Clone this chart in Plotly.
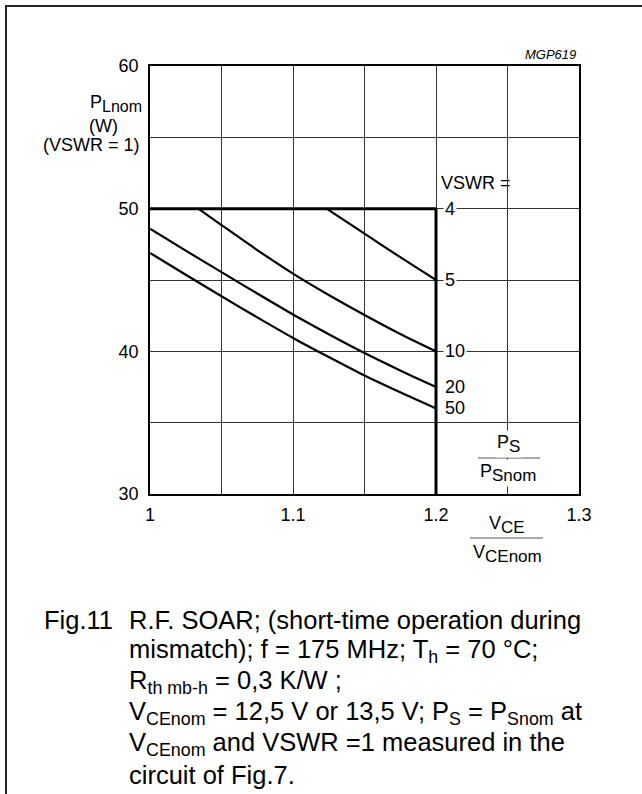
import plotly.graph_objects as go

# ---- data ----
x_ticks = [1.0, 1.1, 1.2, 1.3]
x_tick_text = ["1", "1.1", "1.2", "1.3"]
y_ticks = [30, 40, 50, 60]
y_tick_text = ["30", "40", "50", "60"]

# SOAR limit (VSWR = 4): horizontal cap and vertical limit
limit_h_x = [1.0, 1.2]
limit_h_y = [50, 50]
limit_v_x = [1.2, 1.2]
limit_v_y = [30, 50]

vswr5_x = [1.1235, 1.15, 1.175, 1.2]
vswr5_y = [50.0, 48.25, 46.6, 45.0]

vswr10_x = [1.0338, 1.05, 1.075, 1.1, 1.125, 1.15, 1.175, 1.2]
vswr10_y = [50.0, 48.85, 47.1, 45.45, 43.95, 42.55, 41.22, 40.0]

vswr20_x = [1.0, 1.025, 1.05, 1.075, 1.1, 1.125, 1.15, 1.175, 1.2]
vswr20_y = [48.6, 47.06, 45.55, 44.05, 42.58, 41.2, 39.88, 38.66, 37.5]

vswr50_x = [1.0, 1.025, 1.05, 1.075, 1.1, 1.125, 1.15, 1.175, 1.2]
vswr50_y = [46.9, 45.37, 43.86, 42.38, 40.94, 39.6, 38.31, 37.13, 36.0]

curve_labels = ["4", "5", "10", "20", "50"]
curve_label_y = [50, 45, 40, 37.5, 36]

FONT = "Liberation Sans, Arial, Helvetica, sans-serif"
W, H = 642, 794
L, R, T, B = 150, 579, 66, 494


def px(X):
    return (X - L) / (R - L)


def py(Y):
    return (B - Y) / (B - T)


def sub(txt, size):
    return "<sub><span style='font-size:%dpx'>%s</span></sub>" % (size, txt)


fig = go.Figure()

for xs, ys in [(vswr5_x, vswr5_y), (vswr10_x, vswr10_y),
               (vswr20_x, vswr20_y), (vswr50_x, vswr50_y)]:
    fig.add_trace(go.Scatter(x=xs, y=ys, mode="lines",
                             line=dict(color="black", width=2.2, shape="spline", smoothing=0.8),
                             showlegend=False, hoverinfo="skip"))

fig.add_trace(go.Scatter(x=limit_h_x, y=limit_h_y, mode="lines",
                         line=dict(color="black", width=3), showlegend=False, hoverinfo="skip"))
fig.add_trace(go.Scatter(x=limit_v_x, y=limit_v_y, mode="lines",
                         line=dict(color="black", width=3), showlegend=False, hoverinfo="skip"))

annotations = []
LAB = 18

# curve labels at x = 1.2
for lab, yv in zip(curve_labels, curve_label_y):
    annotations.append(dict(x=1.2, y=yv, xref="x", yref="y", text=lab, showarrow=False,
                            xanchor="left", yanchor="middle", xshift=7,
                            font=dict(family=FONT, size=LAB, color="black"),
                            bgcolor="white", borderpad=1))

annotations.append(dict(x=1.2, y=51.8, xref="x", yref="y", text="VSWR =", showarrow=False,
                        xanchor="left", yanchor="middle", xshift=3,
                        font=dict(family=FONT, size=LAB, color="black")))

# y axis title
annotations += [
    dict(x=px(116), y=py(103), xref="paper", yref="paper", text="P" + sub("Lnom", 16),
         showarrow=False, xanchor="center", yanchor="middle",
         font=dict(family=FONT, size=LAB, color="black")),
    dict(x=px(103), y=py(126), xref="paper", yref="paper", text="(W)",
         showarrow=False, xanchor="center", yanchor="middle",
         font=dict(family=FONT, size=LAB, color="black")),
    dict(x=px(91), y=py(145), xref="paper", yref="paper", text="(VSWR = 1)",
         showarrow=False, xanchor="center", yanchor="middle",
         font=dict(family=FONT, size=LAB, color="black")),
    dict(x=px(578), y=py(54), xref="paper", yref="paper", text="<i>MGP619</i>",
         showarrow=False, xanchor="right", yanchor="middle",
         font=dict(family=FONT, size=13, color="black")),
]

# fractions
annotations += [
    dict(x=px(508), y=py(444), xref="paper", yref="paper", text="P" + sub("S", 17),
         showarrow=False, xanchor="center", yanchor="middle", bgcolor="white", borderpad=1,
         font=dict(family=FONT, size=LAB, color="black")),
    dict(x=px(508), y=py(473), xref="paper", yref="paper", text="P" + sub("Snom", 17),
         showarrow=False, xanchor="center", yanchor="middle", bgcolor="white", borderpad=1,
         font=dict(family=FONT, size=LAB, color="black")),
    dict(x=px(507), y=py(525), xref="paper", yref="paper", text="V" + sub("CE", 17),
         showarrow=False, xanchor="center", yanchor="middle",
         font=dict(family=FONT, size=LAB, color="black")),
    dict(x=px(507), y=py(554), xref="paper", yref="paper", text="V" + sub("CEnom", 17),
         showarrow=False, xanchor="center", yanchor="middle",
         font=dict(family=FONT, size=LAB, color="black")),
]

CAP = 25.5
caption_lines = [
    "R.F. SOAR; (short-time operation during",
    "mismatch); f = 175 MHz; T<sub>h</sub> = 70 °C;",
    "R<sub>th mb-h</sub> = 0,3 K/W ;",
    "V<sub>CEnom</sub> = 12,5 V or 13,5 V; P<sub>S</sub> = P<sub>Snom</sub> at",
    "V<sub>CEnom</sub> and VSWR =1 measured in the",
    "circuit of Fig.7.",
]
caption_y = [620, 651, 682, 713, 744, 775]
annotations.append(dict(x=px(42), y=py(620), xref="paper", yref="paper", text="Fig.11",
                        showarrow=False, xanchor="left", yanchor="middle",
                        font=dict(family=FONT, size=CAP, color="black")))
for txt, yy in zip(caption_lines, caption_y):
    annotations.append(dict(x=px(127), y=py(yy), xref="paper", yref="paper", text=txt,
                            showarrow=False, xanchor="left", yanchor="middle",
                            font=dict(family=FONT, size=CAP, color="black")))

shapes = [
    # fraction bars
    dict(type="line", xref="paper", yref="paper", x0=px(478), x1=px(540), y0=py(458), y1=py(458),
         line=dict(color="#555", width=1)),
    dict(type="line", xref="paper", yref="paper", x0=px(470), x1=px(543), y0=py(538), y1=py(538),
         line=dict(color="#555", width=1)),
    # outer frame (top and left edges)
    dict(type="line", xref="paper", yref="paper", x0=px(5), x1=px(642), y0=py(6), y1=py(6),
         line=dict(color="#222", width=2)),
    dict(type="line", xref="paper", yref="paper", x0=px(6), x1=px(6), y0=py(5), y1=py(794),
         line=dict(color="#222", width=2)),
]

fig.update_layout(
    width=W, height=H,
    margin=dict(l=L, r=W - R, t=T, b=H - B, pad=0),
    paper_bgcolor="white", plot_bgcolor="white",
    annotations=annotations, shapes=shapes,
    font=dict(family=FONT, size=LAB, color="black"),
    showlegend=False,
)
fig.update_xaxes(range=[1.0, 1.3], tickvals=x_ticks, ticktext=x_tick_text,
                 showgrid=True, gridcolor="#333", gridwidth=1,
                 minor=dict(dtick=0.05, tick0=1.0, showgrid=True, gridcolor="#333", gridwidth=1),
                 showline=True, linecolor="black", linewidth=1.5, mirror=True,
                 zeroline=False, ticks="", ticklabelstandoff=4,
                 tickfont=dict(family=FONT, size=LAB, color="black"))
fig.update_yaxes(range=[30, 60], tickvals=y_ticks, ticktext=y_tick_text,
                 showgrid=True, gridcolor="#333", gridwidth=1,
                 minor=dict(dtick=5, tick0=30, showgrid=True, gridcolor="#333", gridwidth=1),
                 showline=True, linecolor="black", linewidth=1.5, mirror=True,
                 zeroline=False, ticks="", ticklabelstandoff=6,
                 tickfont=dict(family=FONT, size=LAB, color="black"))

fig.write_html("out.html", config={"displayModeBar": False},
               post_script="document.body.style.margin='0px';")
